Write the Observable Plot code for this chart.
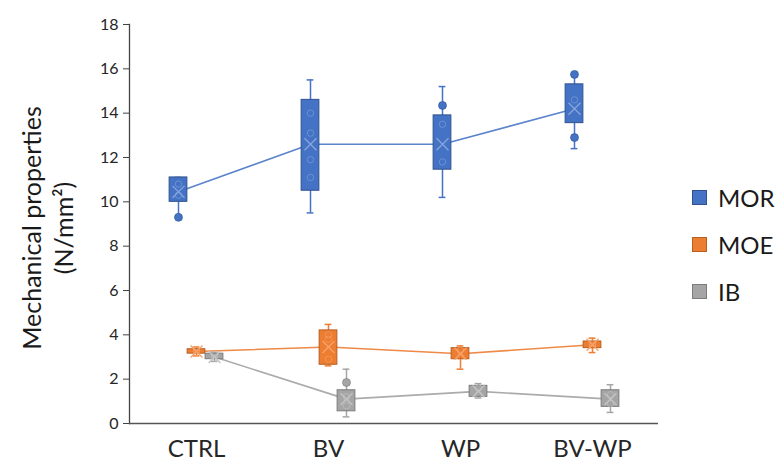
<!DOCTYPE html>
<html>
<head>
<meta charset="utf-8">
<script src="https://cdn.jsdelivr.net/npm/d3@7"></script>
<script src="https://cdn.jsdelivr.net/npm/@observablehq/plot@0.6"></script>
<style>
  html, body { margin: 0; padding: 0; background: #fff; }
  #wrap { position: relative; width: 784px; height: 468px; font-family: Lato, "Open Sans", sans-serif; }
  .leg { position: absolute; left: 692px; display: flex; align-items: center; font-size: 24px; color: #1a1a1a; }
  .leg span.sw { display: inline-block; width: 15px; height: 15px; margin-right: 11px; box-sizing: border-box; border: 1px solid; }
</style>
</head>
<body>
<div id="wrap"></div>
<script>
// ---- data ----
const categories = ["CTRL", "BV", "WP", "BV-WP"];
const seriesNames = ["MOR", "MOE", "IB"];
const yTicks = [0, 2, 4, 6, 8, 10, 12, 14, 16, 18];

const morMin  = [9.3, 9.5, 10.2, 12.4];
const morQ1   = [10.0, 10.5, 11.45, 13.55];
const morQ3   = [11.1, 14.6, 13.9, 15.3];
const morMax  = [11.1, 15.5, 15.2, 15.75];
const morMean = [10.45, 12.6, 12.6, 14.2];
const morPoints = [[9.3, 10.3, 10.8], [14.0, 13.1, 11.9, 11.1], [14.35, 13.5, 11.8], [15.75, 12.9, 14.6]];
const morOutliers = [[9.3], [], [14.35], [15.75, 12.9]];

const moeMin  = [3.05, 2.6, 2.45, 3.2];
const moeQ1   = [3.15, 2.65, 2.9, 3.4];
const moeQ3   = [3.35, 4.2, 3.4, 3.7];
const moeMax  = [3.45, 4.47, 3.5, 3.85];
const moeMean = [3.25, 3.45, 3.15, 3.55];
const moePoints = [[3.2, 3.3], [2.9, 3.8, 4.0], [3.0, 3.3], [3.5, 3.6]];
const moeOutliers = [[], [], [], []];

const ibMin  = [2.8, 0.3, 1.15, 0.5];
const ibQ1   = [2.9, 0.55, 1.2, 0.75];
const ibQ3   = [3.15, 1.5, 1.7, 1.5];
const ibMax  = [3.2, 2.45, 1.8, 1.75];
const ibMean = [3.0, 1.1, 1.45, 1.1];
const ibPoints = [[2.95, 3.1], [0.8, 1.2], [1.3, 1.6], [0.9, 1.3]];
const ibOutliers = [[], [1.85], [], []];

const colors = {
  MOR: {fill: "#4472C4", stroke: "#2F528F", line: "#5B84CC", inner: "#86A4DC"},
  MOE: {fill: "#ED7D31", stroke: "#B85F22", line: "#EE8A47", inner: "#F6A36B"},
  IB:  {fill: "#A5A5A5", stroke: "#7C7C7C", line: "#ABABAB", inner: "#C4C4C4"}
};

// ---- build tables ----
const raw = {
  MOR: [morMin, morQ1, morQ3, morMax, morMean, morPoints, morOutliers],
  MOE: [moeMin, moeQ1, moeQ3, moeMax, moeMean, moePoints, moeOutliers],
  IB:  [ibMin, ibQ1, ibQ3, ibMax, ibMean, ibPoints, ibOutliers]
};

const bandW = (784 - 129 - 126) / categories.length;
const boxW = 18, capW = 7;
const marks = [];

seriesNames.forEach((s, si) => {
  const [mn, q1, q3, mx, mean, pts, outs] = raw[s];
  const rows = categories.map((c, i) => ({cat: c, min: mn[i], q1: q1[i], q3: q3[i], max: mx[i], mean: mean[i]}));
  const inner = categories.flatMap((c, i) => pts[i].map(v => ({cat: c, v})));
  const outl = categories.flatMap((c, i) => outs[i].map(v => ({cat: c, v})));
  const dx = (si - 1) * 18;
  const col = colors[s];
  marks.push(
    Plot.line(rows, {x: "cat", y: "mean", stroke: col.line, strokeWidth: 1.6, dx}),
    Plot.ruleX(rows, {x: "cat", y1: "min", y2: "max", stroke: col.fill, strokeWidth: 1.5, dx}),
    Plot.tickY(rows, {x: "cat", y: "min", stroke: col.fill, strokeWidth: 1.5, insetLeft: (bandW - capW) / 2, insetRight: (bandW - capW) / 2, dx}),
    Plot.tickY(rows, {x: "cat", y: "max", stroke: col.fill, strokeWidth: 1.5, insetLeft: (bandW - capW) / 2, insetRight: (bandW - capW) / 2, dx}),
    Plot.barY(rows, {x: "cat", y1: "q1", y2: "q3", fill: col.fill, stroke: col.stroke, strokeWidth: 1, insetLeft: (bandW - boxW) / 2, insetRight: (bandW - boxW) / 2, dx}),
    Plot.dot(inner, {x: "cat", y: "v", r: 3.2, stroke: col.inner, strokeWidth: 1, strokeOpacity: 0.6, fill: "none", dx}),
    Plot.dot(outl, {x: "cat", y: "v", r: 4, fill: col.fill, stroke: col.stroke, strokeWidth: 0.6, dx}),
    Plot.dot(rows, {x: "cat", y: "mean", symbol: "times", r: 5.5, stroke: col.inner, strokeWidth: 1.4, dx})
  );
});

const chart = Plot.plot({
  width: 784,
  height: 468,
  marginLeft: 129,
  marginRight: 126,
  marginTop: 24,
  marginBottom: 45,
  style: {fontFamily: "Lato, 'Open Sans', sans-serif", color: "#262626", background: "#fff"},
  x: {type: "band", domain: categories, padding: 0, label: null},
  y: {domain: [0, 18], label: null},
  marks: [
    Plot.axisY({ticks: yTicks, tickSize: 6, tickPadding: 5, fontSize: 16, label: null, stroke: "#444"}),
    Plot.axisX({tickSize: 0, tickPadding: 16, fontSize: 24, label: null}),
    Plot.frame({anchor: "left", stroke: "#444", strokeWidth: 1.3}),
    ...marks,
    Plot.ruleY([0], {stroke: "#555", strokeWidth: 1.6})
  ]
});

const wrap = document.getElementById("wrap");
wrap.appendChild(chart);

// y-axis title
const svg = d3.select(chart);
const t = svg.append("text")
  .attr("transform", "translate(41,228) rotate(-90)")
  .attr("text-anchor", "middle")
  .attr("font-size", 25)
  .attr("fill", "#1a1a1a")
  .attr("font-family", "Lato, 'Open Sans', sans-serif");
t.append("tspan").attr("x", 0).attr("dy", 0).text("Mechanical properties");
t.append("tspan").attr("x", 0).attr("dy", 32).text("(N/mm²)");

// legend
const legY = [197, 244, 291];
seriesNames.forEach((s, i) => {
  const d = document.createElement("div");
  d.className = "leg";
  d.style.top = (legY[i] - 15) + "px";
  d.style.height = "30px";
  d.innerHTML = `<span class="sw" style="background:${colors[s].fill};border-color:${colors[s].stroke}"></span>${s}`;
  wrap.appendChild(d);
});
</script>
</body>
</html>
